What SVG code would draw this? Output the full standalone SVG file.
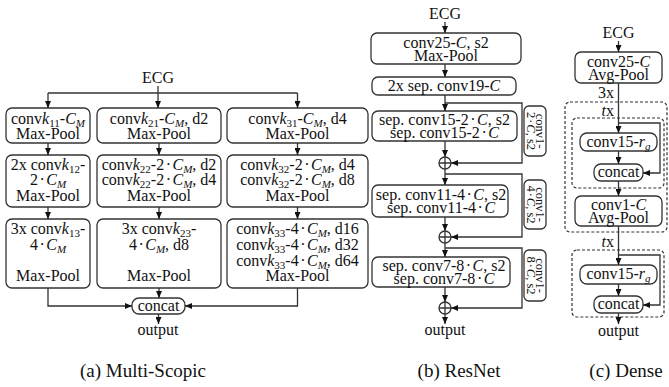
<svg xmlns="http://www.w3.org/2000/svg" width="669" height="387" viewBox="0 0 669 387" font-family="'Liberation Serif', 'Times New Roman', Times, 'DejaVu Serif', serif">
<style>
text{font-family:'Liberation Serif','Times New Roman',Times,'DejaVu Serif',serif;font-size:16px;fill:#111;text-anchor:middle}
.i{font-style:italic}
.sb{font-size:11px}
.sm{font-size:12.5px}
.cap{font-size:19px}
.box{fill:#fff;stroke:#333;stroke-width:1.3}
.dash{fill:none;stroke:#333;stroke-width:1.2;stroke-dasharray:3 2}
.ln{fill:none;stroke:#333;stroke-width:1.3}
.ar{marker-end:url(#ah)}
</style>
<defs>
<marker id="ah" markerWidth="7" markerHeight="6" refX="7" refY="3" orient="auto" markerUnits="userSpaceOnUse">
<path d="M0,0 L7,3 L0,6 z" fill="#111"/>
</marker>
</defs>

<!-- (a) multi-scopic branches -->
<text x="158" y="83">ECG</text>

<g id="a11"><rect class="box" x="6" y="108" width="84" height="35" rx="6"/>
<text x="48" y="124">conv<tspan class="i">k</tspan><tspan class="sb" dy="3">11</tspan><tspan dy="-3">-</tspan><tspan class="i">C</tspan><tspan class="sb i" dy="3">M</tspan></text>
<text x="48" y="139">Max-Pool</text></g>

<g id="a21"><rect class="box" x="97" y="108" width="124" height="35" rx="6"/>
<text x="159" y="124">conv<tspan class="i">k</tspan><tspan class="sb" dy="3">21</tspan><tspan dy="-3">-</tspan><tspan class="i">C</tspan><tspan class="sb i" dy="3">M</tspan><tspan dy="-3">, d2</tspan></text>
<text x="159" y="139">Max-Pool</text></g>

<g id="a31"><rect class="box" x="227" y="108" width="141" height="35" rx="6"/>
<text x="297.5" y="124">conv<tspan class="i">k</tspan><tspan class="sb" dy="3">31</tspan><tspan dy="-3">-</tspan><tspan class="i">C</tspan><tspan class="sb i" dy="3">M</tspan><tspan dy="-3">, d4</tspan></text>
<text x="297.5" y="139">Max-Pool</text></g>

<g id="a12"><rect class="box" x="6" y="155" width="84" height="52" rx="6"/>
<text x="48" y="170">2x conv<tspan class="i">k</tspan><tspan class="sb" dy="3">12</tspan><tspan dy="-3">-</tspan></text>
<text x="48" y="185">2<tspan dx="1.5">·</tspan><tspan dx="1.5" class="i">C</tspan><tspan class="sb i" dy="3">M</tspan></text>
<text x="48" y="201">Max-Pool</text></g>

<g id="a22"><rect class="box" x="97" y="155" width="124" height="52" rx="6"/>
<text x="159" y="170">conv<tspan class="i">k</tspan><tspan class="sb" dy="3">22</tspan><tspan dy="-3">-2</tspan><tspan dx="1.5">·</tspan><tspan dx="1.5" class="i">C</tspan><tspan class="sb i" dy="3">M</tspan><tspan dy="-3">, d2</tspan></text>
<text x="159" y="185">conv<tspan class="i">k</tspan><tspan class="sb" dy="3">22</tspan><tspan dy="-3">-2</tspan><tspan dx="1.5">·</tspan><tspan dx="1.5" class="i">C</tspan><tspan class="sb i" dy="3">M</tspan><tspan dy="-3">, d4</tspan></text>
<text x="159" y="201">Max-Pool</text></g>

<g id="a32"><rect class="box" x="227" y="155" width="141" height="52" rx="6"/>
<text x="297.5" y="170">conv<tspan class="i">k</tspan><tspan class="sb" dy="3">32</tspan><tspan dy="-3">-2</tspan><tspan dx="1.5">·</tspan><tspan dx="1.5" class="i">C</tspan><tspan class="sb i" dy="3">M</tspan><tspan dy="-3">, d4</tspan></text>
<text x="297.5" y="185">conv<tspan class="i">k</tspan><tspan class="sb" dy="3">32</tspan><tspan dy="-3">-2</tspan><tspan dx="1.5">·</tspan><tspan dx="1.5" class="i">C</tspan><tspan class="sb i" dy="3">M</tspan><tspan dy="-3">, d8</tspan></text>
<text x="297.5" y="201">Max-Pool</text></g>

<g id="a13"><rect class="box" x="6" y="219" width="84" height="69" rx="6"/>
<text x="48" y="234">3x conv<tspan class="i">k</tspan><tspan class="sb" dy="3">13</tspan><tspan dy="-3">-</tspan></text>
<text x="48" y="250">4<tspan dx="1.5">·</tspan><tspan dx="1.5" class="i">C</tspan><tspan class="sb i" dy="3">M</tspan></text>
<text x="48" y="281">Max-Pool</text></g>

<g id="a23"><rect class="box" x="97" y="219" width="124" height="69" rx="6"/>
<text x="159" y="234">3x conv<tspan class="i">k</tspan><tspan class="sb" dy="3">23</tspan><tspan dy="-3">-</tspan></text>
<text x="159" y="250">4<tspan dx="1.5">·</tspan><tspan dx="1.5" class="i">C</tspan><tspan class="sb i" dy="3">M</tspan><tspan dy="-3">, d8</tspan></text>
<text x="159" y="281">Max-Pool</text></g>

<g id="a33"><rect class="box" x="227" y="219" width="141" height="69" rx="6"/>
<text x="297.5" y="234">conv<tspan class="i">k</tspan><tspan class="sb" dy="3">33</tspan><tspan dy="-3">-4</tspan><tspan dx="1.5">·</tspan><tspan dx="1.5" class="i">C</tspan><tspan class="sb i" dy="3">M</tspan><tspan dy="-3">, d16</tspan></text>
<text x="297.5" y="250">conv<tspan class="i">k</tspan><tspan class="sb" dy="3">33</tspan><tspan dy="-3">-4</tspan><tspan dx="1.5">·</tspan><tspan dx="1.5" class="i">C</tspan><tspan class="sb i" dy="3">M</tspan><tspan dy="-3">, d32</tspan></text>
<text x="297.5" y="266">conv<tspan class="i">k</tspan><tspan class="sb" dy="3">33</tspan><tspan dy="-3">-4</tspan><tspan dx="1.5">·</tspan><tspan dx="1.5" class="i">C</tspan><tspan class="sb i" dy="3">M</tspan><tspan dy="-3">, d64</tspan></text>
<text x="297.5" y="281">Max-Pool</text></g>

<g id="aconcat"><rect class="box" x="132" y="298" width="53" height="16" rx="7"/>
<text x="158.5" y="311">concat</text></g>
<text x="158" y="335">output</text>

<!-- (b) residual chain -->
<text x="445" y="19">ECG</text>
<g id="b1"><rect class="box" x="371" y="33" width="150" height="31" rx="6"/>
<text x="446" y="48">conv25-<tspan class="i">C</tspan>, s2</text>
<text x="446" y="61">Max-Pool</text></g>
<g id="b2"><rect class="box" x="372" y="77" width="144" height="18" rx="6"/>
<text x="444" y="91">2x sep. conv19-<tspan class="i">C</tspan></text></g>
<g id="b3"><rect class="box" x="372" y="111" width="145" height="30" rx="6"/>
<text x="444.5" y="125">sep. conv15-2<tspan dx="1.5">·</tspan><tspan dx="1.5" class="i">C</tspan>, s2</text>
<text x="444.5" y="138">sep. conv15-2<tspan dx="1.5">·</tspan><tspan dx="1.5" class="i">C</tspan></text></g>
<g id="b4"><rect class="box" x="372" y="185" width="136" height="32" rx="6"/>
<text x="441" y="200">sep. conv11-4<tspan dx="1.5">·</tspan><tspan dx="1.5" class="i">C</tspan>, s2</text>
<text x="441" y="213">sep. conv11-4<tspan dx="1.5">·</tspan><tspan dx="1.5" class="i">C</tspan></text></g>
<g id="b5"><rect class="box" x="372" y="257" width="138" height="30" rx="6"/>
<text x="444" y="271">sep. conv7-8<tspan dx="1.5">·</tspan><tspan dx="1.5" class="i">C</tspan>, s2</text>
<text x="444" y="284">sep. conv7-8<tspan dx="1.5">·</tspan><tspan dx="1.5" class="i">C</tspan></text></g>

<g id="bs1"><rect class="box" x="524" y="106" width="22" height="50" rx="5"/>
<g transform="translate(535,131) rotate(90)"><text class="sm" y="-1">conv1-</text><text class="sm" y="8.5">2<tspan dx="1">·</tspan><tspan dx="1" class="i">C</tspan>, s2</text></g></g>
<g id="bs2"><rect class="box" x="524" y="180" width="22" height="49" rx="5"/>
<g transform="translate(535,204.5) rotate(90)"><text class="sm" y="-1">conv1-</text><text class="sm" y="8.5">4<tspan dx="1">·</tspan><tspan dx="1" class="i">C</tspan>, s2</text></g></g>
<g id="bs3"><rect class="box" x="524" y="250" width="22" height="51" rx="5"/>
<g transform="translate(535,275.5) rotate(90)"><text class="sm" y="-1">conv1-</text><text class="sm" y="8.5">8<tspan dx="1">·</tspan><tspan dx="1" class="i">C</tspan>, s2</text></g></g>

<g id="add1"><circle class="ln" cx="445" cy="163" r="6"/><path class="ln" d="M439,163H451M445,157V169"/></g>
<g id="add2"><circle class="ln" cx="445" cy="237" r="6"/><path class="ln" d="M439,237H451M445,231V243"/></g>
<g id="add3"><circle class="ln" cx="445" cy="308" r="6"/><path class="ln" d="M439,308H451M445,302V314"/></g>
<text x="445" y="335">output</text>

<!-- (c) dense blocks -->
<text x="618.5" y="38">ECG</text>
<g id="c1"><rect class="box" x="575" y="52" width="87" height="31" rx="6"/>
<text x="618.5" y="67">conv25-<tspan class="i">C</tspan></text>
<text x="618.5" y="80">Avg-Pool</text></g>
<text x="614" y="98" style="text-anchor:end">3x</text>
<rect id="cblk" class="dash" x="565" y="102" width="102" height="130" rx="5"/>
<text x="614" y="116" style="text-anchor:end"><tspan class="i">t</tspan>x</text>
<rect id="cgrp1" class="dash" x="572" y="118" width="92" height="70" rx="5"/>
<g id="c2"><rect class="box" x="580" y="133" width="77" height="18" rx="7"/>
<text x="618.5" y="147">conv15-<tspan class="i">r</tspan><tspan class="sb i" dy="3">g</tspan></text></g>
<g id="c3"><rect class="box" x="594" y="164" width="49" height="17" rx="7"/>
<text x="618.5" y="177">concat</text></g>
<g id="c4"><rect class="box" x="575" y="196" width="87" height="30" rx="6"/>
<text x="618.5" y="210">conv1-<tspan class="i">C</tspan></text>
<text x="618.5" y="223">Avg-Pool</text></g>
<text x="614" y="247" style="text-anchor:end"><tspan class="i">t</tspan>x</text>
<rect id="cgrp2" class="dash" x="572" y="250" width="92" height="67" rx="5"/>
<g id="c5"><rect class="box" x="580" y="265" width="77" height="19" rx="7"/>
<text x="618.5" y="279">conv15-<tspan class="i">r</tspan><tspan class="sb i" dy="3">g</tspan></text></g>
<g id="c6"><rect class="box" x="594" y="296" width="49" height="17" rx="7"/>
<text x="618.5" y="309">concat</text></g>
<text x="618.5" y="336">output</text>

<!-- connectors -->
<g id="edges">
<path class="ln ar" d="M158,86V108"/>
<path class="ln" d="M48,93H297.5"/>
<path class="ln ar" d="M48,93V108"/>
<path class="ln ar" d="M297.5,93V108"/>
<path class="ln ar" d="M48,143V155"/>
<path class="ln ar" d="M159,143V155"/>
<path class="ln ar" d="M297.5,143V155"/>
<path class="ln ar" d="M48,207V219"/>
<path class="ln ar" d="M159,207V219"/>
<path class="ln ar" d="M297.5,207V219"/>
<path class="ln ar" d="M48,288V306H132"/>
<path class="ln ar" d="M297.5,288V306H185"/>
<path class="ln ar" d="M159,288V298"/>
<path class="ln ar" d="M158.5,314V324"/>

<path class="ln ar" d="M445,22V33"/>
<path class="ln ar" d="M445,64V77"/>
<path class="ln ar" d="M445,95V111"/>
<path class="ln ar" d="M445,103H522V163H451"/>
<path class="ln ar" d="M445,141V157"/>
<path class="ln ar" d="M445,169V185"/>
<path class="ln ar" d="M445,174H522V237H451"/>
<path class="ln ar" d="M445,217V231"/>
<path class="ln ar" d="M445,243V257"/>
<path class="ln ar" d="M445,248H522V308H451"/>
<path class="ln ar" d="M445,287V302"/>
<path class="ln ar" d="M445,314V324"/>

<path class="ln ar" d="M618.5,41V52"/>
<path class="ln ar" d="M618.5,83V133"/>
<path class="ln ar" d="M618.5,123H660V173H643"/>
<path class="ln ar" d="M618.5,151V164"/>
<path class="ln ar" d="M618.5,181V196"/>
<path class="ln ar" d="M618.5,226V265"/>
<path class="ln ar" d="M618.5,255H660V305H643"/>
<path class="ln ar" d="M618.5,284V296"/>
<path class="ln ar" d="M618.5,313V324"/>
</g>

<text class="cap" x="143" y="377">(a) Multi-Scopic</text>
<text class="cap" x="459" y="377">(b) ResNet</text>
<text class="cap" x="626" y="377">(c) Dense</text>
</svg>
